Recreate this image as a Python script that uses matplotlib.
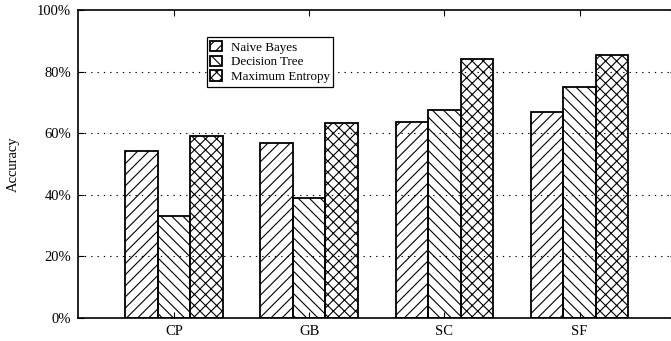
import matplotlib
matplotlib.use("Agg")
import matplotlib.pyplot as plt
import numpy as np

categorias = ["CP", "GB", "SC", "SF"]
naive_bayes = [54.3, 56.7, 63.6, 67.0]
decision_tree = [33.2, 38.8, 67.4, 74.9]
maximum_entropy = [59.1, 63.2, 84.0, 85.4]
series = ["Naive Bayes", "Decision Tree", "Maximum Entropy"]
yticks = [0, 20, 40, 60, 80, 100]

plt.rcParams['font.family'] = ['Liberation Serif', 'DejaVu Serif']
plt.rcParams['hatch.linewidth'] = 0.8

fig = plt.figure(figsize=(6.71, 3.41), dpi=100)
ax = fig.add_axes([78 / 671, 23.3 / 341, 597.5 / 671, 307.7 / 341])

x = np.arange(len(categorias))
ancho = 0.24
patrones = ["///", "\\\\\\", "xxx"]
valores = [naive_bayes, decision_tree, maximum_entropy]

for i, (nombre, vals) in enumerate(zip(series, valores)):
    ax.bar(x + (i - 1) * ancho, vals, width=ancho, facecolor='none',
           edgecolor='black', linewidth=1.3, hatch=patrones[i],
           label=nombre, zorder=3)

for v in yticks[1:-1]:
    ax.axhline(v, color='black', linewidth=0.8, linestyle=(0, (1.2, 4.5)), zorder=1)

ax.set_xlim(-0.71, 3.71)
ax.set_ylim(0, 100)
ax.set_xticks(x)
ax.set_xticklabels(categorias)
ax.set_yticks(yticks)
ax.set_yticklabels([f"{v}%" for v in yticks])
ax.tick_params(axis='both', direction='in', length=4, width=0.8,
               labelsize=10.5, top=True, right=True, pad=5)
for s in ax.spines.values():
    s.set_linewidth(1.2)

ax.set_ylabel("Accuracy", fontsize=10.5)
ax.yaxis.set_label_coords(-0.098, 0.5)

leg = ax.legend(loc='upper left', bbox_to_anchor=(0.2156, 0.911), fontsize=9.4,
                frameon=True, fancybox=False, edgecolor='black', framealpha=1,
                handlelength=0.9, handleheight=0.9, handletextpad=0.7,
                labelspacing=0.15, borderpad=0.25, borderaxespad=0)
leg.get_frame().set_linewidth(0.9)
leg.set_zorder(5)

fig.savefig("out.png", dpi=100)
